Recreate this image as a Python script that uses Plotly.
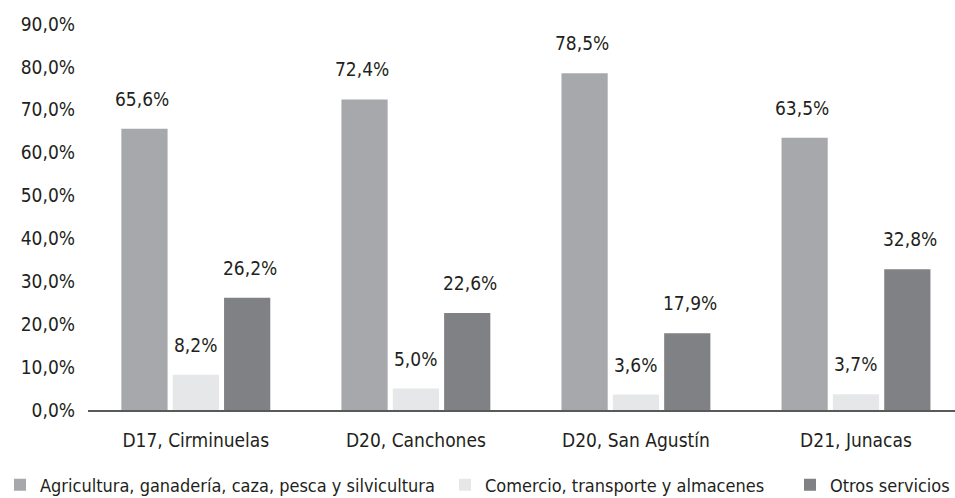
import plotly.graph_objects as go

categories = ["D17, Cirminuelas", "D20, Canchones", "D20, San Agustín", "D21, Junacas"]
series_names = ["Agricultura, ganadería, caza, pesca y silvicultura",
                "Comercio, transporte y almacenes",
                "Otros servicios"]
agricultura = [65.6, 72.4, 78.5, 63.5]
comercio = [8.2, 5.0, 3.6, 3.7]
otros = [26.2, 22.6, 17.9, 32.8]
tick_values = [0, 10, 20, 30, 40, 50, 60, 70, 80, 90]
tick_labels = ["0,0%", "10,0%", "20,0%", "30,0%", "40,0%", "50,0%", "60,0%", "70,0%", "80,0%", "90,0%"]

colors = ["#a7a8ab", "#e6e7e8", "#808184"]
FONT = "DejaVu Sans Condensed, Liberation Sans Narrow, sans-serif"
TXT = "#231f20"
FS = 19
LFS = 18

def fmt(v):
    return f"{v:.1f}%".replace(".", ",")

fig = go.Figure()
all_series = [agricultura, comercio, otros]
legend_ids = ["legend", "legend2", "legend3"]
for name, vals, col, lg in zip(series_names, all_series, colors, legend_ids):
    fig.add_trace(go.Bar(
        x=categories, y=vals, name=name, marker=dict(color=col, line=dict(width=0)),
        legend=lg, hoverinfo="skip",
    ))

offsets = [-54, 0, 54]
for vals, off in zip(all_series, offsets):
    for c, v in zip(categories, vals):
        fig.add_annotation(x=c, y=v, text=fmt(v), showarrow=False, xshift=off, yshift=30,
                           font=dict(family=FONT, size=FS, color=TXT), yanchor="middle")

leg_common = dict(orientation="h", xref="container", yref="container", yanchor="middle",
                  font=dict(family=FONT, size=LFS, color=TXT), bgcolor="rgba(0,0,0,0)",
                  borderwidth=0, itemclick=False, itemdoubleclick=False)

fig.update_layout(
    width=955, height=498,
    margin=dict(l=88, r=0, t=24, b=88),
    paper_bgcolor="white", plot_bgcolor="white",
    barmode="group", bargap=0.3, bargroupgap=0.1,
    font=dict(family=FONT, size=FS, color=TXT),
    xaxis=dict(range=[-0.49, 3.45], showgrid=False, showline=True, linecolor="#58595b",
               linewidth=2, ticks="", tickfont=dict(family=FONT, size=FS, color=TXT),
               ticklabelstandoff=12, fixedrange=True),
    yaxis=dict(range=[0, 90], tickvals=tick_values, ticktext=tick_labels, showgrid=False,
               showline=False, zeroline=False, ticks="", ticklabelstandoff=12,
               tickfont=dict(family=FONT, size=FS, color=TXT), fixedrange=True),
    legend=dict(x=0.0, y=0.026, **leg_common),
    legend2=dict(x=0.466, y=0.026, **leg_common),
    legend3=dict(x=1.0, xanchor="right", y=0.026, **leg_common),
    showlegend=True,
)

fig.write_html("out.html")
